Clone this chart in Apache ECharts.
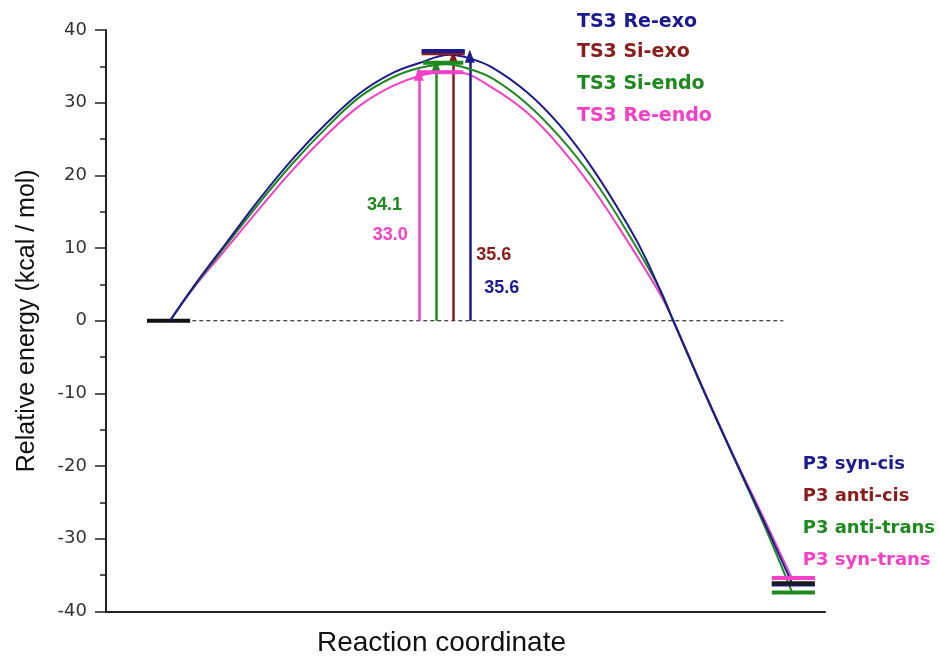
<!DOCTYPE html>
<html><head><meta charset="utf-8">
<script src="https://cdn.jsdelivr.net/npm/echarts@6/dist/echarts.min.js"></script>
<style>html,body{margin:0;padding:0;background:#fff}#c{width:939px;height:658px}</style>
</head><body><div id="c"></div>
<script>
// Reaction coordinate (arbitrary units 0..100) and relative energies (kcal/mol)
const curveReExo  = [[8.9,0],[12.1,4.6],[16.8,10.8],[21.4,16.8],[26.0,22.3],[30.7,27.2],[35.3,31.3],[39.9,34.1],[43.7,35.5],[47.8,36.6],[50.6,36.1],[53.8,34.8],[58.6,31.4],[63.1,26.9],[67.7,20.9],[72.5,13.3],[75.2,8.3],[78.9,0],[83.0,-9.3],[87.2,-18.5],[91.4,-27.4],[95.4,-36.1]];
const curveSiEndo = [[8.9,0],[12.1,4.5],[16.8,10.5],[21.4,16.3],[26.0,21.7],[30.7,26.6],[35.3,30.8],[39.9,33.5],[43.7,34.8],[47.4,35.3],[50.6,34.6],[53.8,33.3],[58.6,29.8],[63.1,25.3],[67.7,19.6],[72.5,12.2],[77.1,4.2],[78.9,0],[83.0,-9.4],[87.2,-18.6],[91.4,-27.8],[95.4,-37.3]];
const curveReEndo = [[8.9,0],[12.1,4.4],[16.8,10.0],[21.4,15.5],[26.0,20.8],[30.7,25.6],[35.3,29.6],[39.9,32.3],[43.7,33.7],[47.4,34.3],[49.2,34.2],[53.8,32.0],[58.6,28.6],[63.1,24.0],[67.7,18.2],[72.5,11.0],[77.1,3.6],[78.9,0],[83.0,-9.2],[87.2,-18.4],[91.4,-27.0],[95.4,-35.4]];

const reactantLevel = {x: [5.7, 11.7], y: 0};
const zeroLine = {x: [12.0, 94.2], y: 0};

const tsNames  = ['TS3 Re-exo','TS3 Si-exo','TS3 Si-endo','TS3 Re-endo'];
const tsColors = ['#1b1b8f','#8b1c1c','#1e8a1e','#f43fc6'];
const tsLevels = [37.1, 36.8, 35.5, 34.2];
const tsLevelX = [[43.9,49.9],[43.9,49.9],[44.1,49.7],[43.3,49.7]];
const arrowX   = [50.6, 48.3, 45.9, 43.5];
const arrowTop = [37.0, 36.8, 35.6, 34.5];
const barrierText = ['35.6','35.6','34.1','33.0'];
const barrierPos  = [[52.6,4.5],[51.5,9.0],[36.3,15.9],[37.1,11.8]];
const tsLabelPos  = [[65.5,41.1],[65.5,37.0],[65.5,32.6],[65.5,28.2]];

const pNames  = ['P3 syn-cis','P3 anti-cis','P3 anti-trans','P3 syn-trans'];
const pColors = ['#1b1b8f','#8b1c1c','#1e8a1e','#f43fc6'];
const pLabelPos = [[96.9,-19.8],[96.9,-24.2],[96.9,-28.5],[96.9,-33.0]];
const pLevels = [-36.3, -36.1, -37.4, -35.4];
const pLevelColors = ['#1b1b8f','#1a1a1a','#1e8a1e','#f43fc6'];
const pLevelX = [92.6, 98.6];

const yTicks = {min:-40, max:40, interval:10};

const arial = 'Liberation Sans, Arial, sans-serif';
const dejavu = 'DejaVu Sans, Verdana, sans-serif';
const series = [];
function seg(x0,x1,y0,y1,color,w,z,type){
  series.push({type:'line', data:[[x0,y0],[x1,y1]], showSymbol:false, symbol:'none', silent:true, z:z||3,
    lineStyle:{color:color,width:w,type:type||'solid'}});
}
// dashed zero line
seg(zeroLine.x[0], zeroLine.x[1], zeroLine.y, zeroLine.y, '#111', 1.2, 2, [4,3]);
// reactant level
seg(reactantLevel.x[0], reactantLevel.x[1], reactantLevel.y, reactantLevel.y, '#111', 4, 6);
// curves
[[curveReEndo,tsColors[3]],[curveSiEndo,tsColors[2]],[curveReExo,tsColors[0]]].forEach(function(c,i){
  series.push({type:'line', data:c[0], smooth:0.4, showSymbol:false, symbol:'none', silent:true, z:4+i,
    lineStyle:{color:c[1], width:2}});
});
// TS levels
[3,2,1,0].forEach(function(i){ seg(tsLevelX[i][0], tsLevelX[i][1], tsLevels[i], tsLevels[i], tsColors[i], 4, 8); });
// product levels
[3,0,1,2].forEach(function(i){ seg(pLevelX[0], pLevelX[1], pLevels[i], pLevels[i], pLevelColors[i], 4, 8); });
// arrows
series.push({type:'line', data:[], silent:true, z:10,
  markLine:{silent:true, symbol:['none','triangle'], symbolSize:[10,13], animation:false, label:{show:false},
    data: arrowX.map(function(x,i){ return [{coord:[x,0], lineStyle:{color:tsColors[i],width:2.5,type:'solid'}, itemStyle:{color:tsColors[i]}},{coord:[x,arrowTop[i]-0.6]}]; })}
});
// text labels
function labels(pos, texts, colors, size, family){
  series.push({type:'scatter', symbolSize:0, clip:false, silent:true, z:12, itemStyle:{opacity:1},
    data: pos.map(function(p,i){ return {value:p, itemStyle:{opacity:1}, label:{show:true, position:'right', distance:0, formatter:texts[i],
      color:colors[i], opacity:1, fontFamily:family, fontWeight:'bold', fontSize:size}}; })});
}
labels(tsLabelPos, tsNames, tsColors, 19, dejavu);
labels(pLabelPos, pNames, pColors, 18, dejavu);
labels(barrierPos, barrierText, tsColors, 18, arial);

const chart = echarts.init(document.getElementById('c'), null, {renderer:'canvas'});
chart.setOption({
  animation:false,
  backgroundColor:'#fff',
  grid:{left:106, right:114, top:30, bottom:46.5, containLabel:false, outerBoundsMode:'none'},
  xAxis:{type:'value', min:0, max:100, axisLine:{show:true, onZero:false, lineStyle:{color:'#222', width:2}},
    axisTick:{show:false}, axisLabel:{show:false}, splitLine:{show:false},
    name:'Reaction coordinate', nameLocation:'middle', nameGap:18,
    nameTextStyle:{fontFamily:arial, fontSize:28, color:'#111', padding:[0,48,0,0], verticalAlign:'top'}},
  yAxis:{type:'value', min:yTicks.min, max:yTicks.max, interval:yTicks.interval,
    axisLine:{show:true, onZero:false, lineStyle:{color:'#222', width:2}},
    axisTick:{show:true, inside:false, length:11, lineStyle:{color:'#222', width:1.5}},
    minorTick:{show:true, splitNumber:2, length:6, lineStyle:{color:'#222', width:1.5}},
    axisLabel:{fontFamily:dejavu, fontSize:18, color:'#333', margin:19},
    splitLine:{show:false},
    name:'Relative energy (kcal / mol)', nameLocation:'middle', nameGap:66,
    nameTextStyle:{fontFamily:arial, fontSize:25, color:'#111'}},
  series:series
});
</script></body></html>
